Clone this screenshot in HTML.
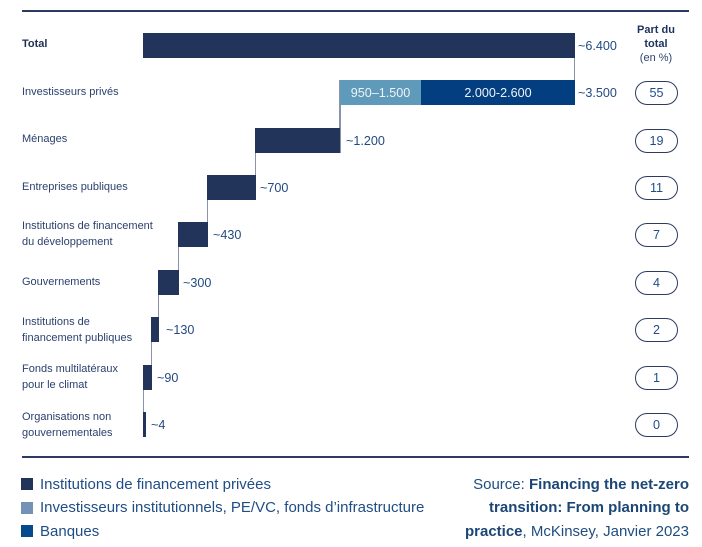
<!DOCTYPE html>
<html>
<head>
<meta charset="utf-8">
<style>
  html,body{margin:0;padding:0;background:#fff;}
  body{width:702px;height:547px;position:relative;overflow:hidden;font-family:"Liberation Sans",Arial,sans-serif;}
  .a{position:absolute;}
  .bar{position:absolute;background:#22345a;}
  .ln{position:absolute;width:1.4px;background:#8a93a9;}
  .lbl{position:absolute;left:22px;font-size:11px;color:#2b416e;line-height:16px;white-space:nowrap;}
  .val{position:absolute;font-size:12.6px;color:#224a82;line-height:16px;white-space:nowrap;}
  .pill{position:absolute;left:635px;width:43px;height:24px;box-sizing:border-box;border:1.5px solid #2b3b60;border-radius:12px;text-align:center;font-size:12.6px;line-height:20px;padding-top:1px;color:#1f4c8a;}
  .leg{position:absolute;left:40px;font-size:15px;color:#1f4d85;line-height:18px;white-space:nowrap;}
  .sq{position:absolute;left:21px;width:12px;height:12px;}
  .src{position:absolute;right:13px;font-size:15px;color:#1f4d80;line-height:18px;white-space:nowrap;text-align:right;}
  .src b{color:#1b4676;}
</style>
</head>
<body>
<!-- top rule -->
<div class="a" style="left:22px;top:10px;width:667px;height:1.6px;background:#2b3a5e;"></div>

<!-- header -->
<div class="a" style="left:615px;width:82px;top:23px;text-align:center;font-size:11px;font-weight:bold;color:#1e3460;line-height:14px;">Part du<br>total</div>
<div class="a" style="left:615px;width:82px;top:51px;text-align:center;font-size:11px;color:#2d4470;line-height:14px;">(en %)</div>

<!-- connector lines -->
<div class="ln" style="left:574px;top:58px;height:22px;"></div>
<div class="ln" style="left:339.3px;top:80px;height:73px;"></div>
<div class="ln" style="left:254.5px;top:128px;height:72px;"></div>
<div class="ln" style="left:206.8px;top:175px;height:72px;"></div>
<div class="ln" style="left:177.5px;top:222px;height:73px;"></div>
<div class="ln" style="left:158px;top:270px;height:72px;"></div>
<div class="ln" style="left:150.5px;top:317px;height:73px;"></div>
<div class="ln" style="left:142.5px;top:365px;height:72px;"></div>

<!-- bars -->
<div class="bar" style="left:143px;top:33px;width:432px;height:25px;"></div>
<div class="bar" style="left:340px;top:80px;width:81px;height:25px;background:#5f9aba;"></div>
<div class="bar" style="left:421px;top:80px;width:154px;height:25px;background:#033f80;"></div>
<div class="a" style="left:340px;top:84.5px;width:81px;text-align:center;font-size:12.6px;color:#eef3f8;line-height:16px;">950–1.500</div>
<div class="a" style="left:421px;top:84.5px;width:154px;text-align:center;font-size:12.6px;color:#eef3f8;line-height:16px;">2.000-2.600</div>
<div class="bar" style="left:255px;top:128px;width:85px;height:25px;"></div>
<div class="bar" style="left:207px;top:175px;width:49px;height:25px;"></div>
<div class="bar" style="left:178px;top:222px;width:30px;height:25px;"></div>
<div class="bar" style="left:158px;top:270px;width:21px;height:25px;"></div>
<div class="bar" style="left:151px;top:317px;width:8px;height:25px;"></div>
<div class="bar" style="left:143px;top:365px;width:9px;height:25px;"></div>
<div class="bar" style="left:143px;top:412px;width:3px;height:25px;"></div>

<!-- left labels -->
<div class="lbl" style="top:36px;font-weight:bold;color:#1e2f55;">Total</div>
<div class="lbl" style="top:84px;">Investisseurs privés</div>
<div class="lbl" style="top:131px;">Ménages</div>
<div class="lbl" style="top:179px;">Entreprises publiques</div>
<div class="lbl" style="top:218px;">Institutions de financement<br>du développement</div>
<div class="lbl" style="top:274px;">Gouvernements</div>
<div class="lbl" style="top:314px;">Institutions de<br>financement publiques</div>
<div class="lbl" style="top:361px;">Fonds multilatéraux<br>pour le climat</div>
<div class="lbl" style="top:409px;">Organisations non<br>gouvernementales</div>

<!-- value labels -->
<div class="val" style="left:578px;top:37.5px;">~6.400</div>
<div class="val" style="left:578px;top:85px;">~3.500</div>
<div class="val" style="left:346px;top:132.5px;">~1.200</div>
<div class="val" style="left:260px;top:179.5px;">~700</div>
<div class="val" style="left:213px;top:226.5px;">~430</div>
<div class="val" style="left:183px;top:274.5px;">~300</div>
<div class="val" style="left:166px;top:321.5px;">~130</div>
<div class="val" style="left:157px;top:369.5px;">~90</div>
<div class="val" style="left:151px;top:416.5px;">~4</div>

<!-- pills -->
<div class="pill" style="top:81px;">55</div>
<div class="pill" style="top:128.5px;">19</div>
<div class="pill" style="top:175.5px;">11</div>
<div class="pill" style="top:222.5px;">7</div>
<div class="pill" style="top:270.5px;">4</div>
<div class="pill" style="top:317.5px;">2</div>
<div class="pill" style="top:365.5px;">1</div>
<div class="pill" style="top:412.5px;">0</div>

<!-- bottom rule -->
<div class="a" style="left:22px;top:456px;width:667px;height:1.6px;background:#2b3a5e;"></div>

<!-- legend -->
<div class="sq" style="top:478px;background:#22345a;"></div>
<div class="leg" style="top:476px;">Institutions de financement privées</div>
<div class="sq" style="top:502px;background:#7591b5;"></div>
<div class="leg" style="top:499px;">Investisseurs institutionnels, PE/VC, fonds d’infrastructure</div>
<div class="sq" style="top:525px;background:#054a8c;"></div>
<div class="leg" style="top:523px;">Banques</div>

<!-- source -->
<div class="src" style="top:476px;">Source: <b>Financing the net-zero</b></div>
<div class="src" style="top:499px;"><b>transition: From planning to</b></div>
<div class="src" style="top:523px;"><b>practice</b>, McKinsey, Janvier 2023</div>
</body>
</html>
